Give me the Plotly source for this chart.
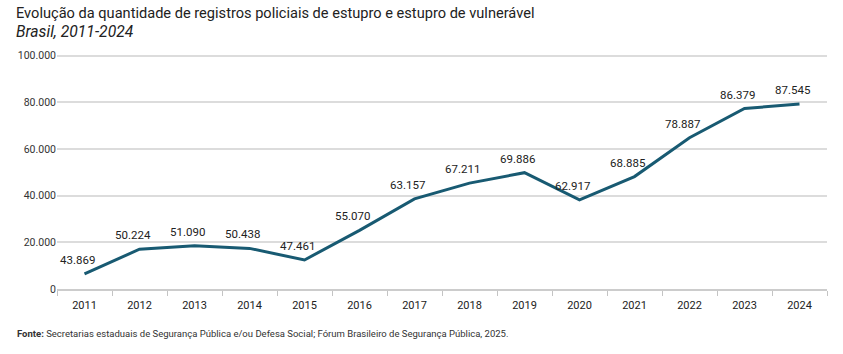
import plotly.graph_objects as go

years = list(range(2011, 2025))
registros = [43869, 50224, 51090, 50438, 47461, 55070, 63157, 67211, 69886,
             62917, 68885, 78887, 86379, 87545]
y_ticks = [0, 20000, 40000, 60000, 80000, 100000]

title = "Evolução da quantidade de registros policiais de estupro e estupro de vulnerável"
subtitle = "Brasil, 2011-2024"
source = ("<b>Fonte:</b> Secretarias estaduais de Segurança Pública e/ou Defesa Social; "
          "Fórum Brasileiro de Segurança Pública, 2025.")

LINE = "#185a72"
FONT = "Roboto, sans-serif"
TXT = "#222222"

def fmt(v):
    return f"{v:,}".replace(",", ".")

fig = go.Figure()
# display axis (y): invisible anchor trace so the axis is drawn
fig.add_trace(go.Scatter(x=[years[0]], y=[0], mode="markers", yaxis="y",
                         marker=dict(opacity=0), hoverinfo="skip", showlegend=False))
fig.add_trace(go.Scatter(x=years, y=registros, mode="lines", yaxis="y2",
                         line=dict(color=LINE, width=3), hoverinfo="skip",
                         showlegend=False))

annotations = []
for yr, v in zip(years, registros):
    annotations.append(dict(x=yr, y=v, xref="x", yref="y2", text=fmt(v),
                            showarrow=False, xshift=-7, yshift=14,
                            font=dict(family=FONT, size=11.5, color=TXT)))

W, L, R = 843, 57, 16
T, B = 52, 65
pw = W - L - R
ph = 354 - T - B
def px(xp):
    return (xp - L) / pw
def py(yp):
    return (354 - B - yp) / ph

annotations.append(dict(x=px(14), y=py(13), xref="paper", yref="paper", text=title,
                        showarrow=False, xanchor="left", yanchor="middle",
                        font=dict(family=FONT, size=14.6, color=TXT)))
annotations.append(dict(x=px(14), y=py(32), xref="paper", yref="paper",
                        text="<i>" + subtitle + "</i>",
                        showarrow=False, xanchor="left", yanchor="middle",
                        font=dict(family=FONT, size=15.7, color=TXT)))
annotations.append(dict(x=px(15), y=py(333), xref="paper", yref="paper", text=source,
                        showarrow=False, xanchor="left", yanchor="middle",
                        font=dict(family=FONT, size=9.5, color="#333333")))

top = 101500
fig.update_layout(
    width=W, height=354,
    margin=dict(l=L, r=R, t=T, b=B),
    paper_bgcolor="white", plot_bgcolor="white",
    separators=",.",
    showlegend=False,
    xaxis=dict(range=[years[0] - 0.5, years[-1] + 0.5], tickvals=years,
               ticks="", showgrid=False, ticklabelstandoff=5,
               minor=dict(tickvals=[y - 0.5 for y in years] + [years[-1] + 0.5],
                          ticks="outside", ticklen=5, tickcolor="#c4c4c4",
                          showgrid=False),
               showline=True, linecolor="#cccccc", linewidth=1.5, zeroline=False,
               tickfont=dict(family=FONT, size=11, color=TXT), fixedrange=True),
    yaxis=dict(range=[0, top], tickvals=y_ticks, tickformat=",d",
               showgrid=True, gridcolor="#dcdcdc", gridwidth=1.5, zeroline=False,
               ticks="", tickfont=dict(family=FONT, size=10.5, color="#333333"),
               fixedrange=True),
    yaxis2=dict(range=[40000, 40000 + 0.6 * top], overlaying="y", showgrid=False,
                zeroline=False, showline=False, showticklabels=False, ticks="",
                fixedrange=True),
    annotations=annotations,
)

fig.write_html("out.html")
